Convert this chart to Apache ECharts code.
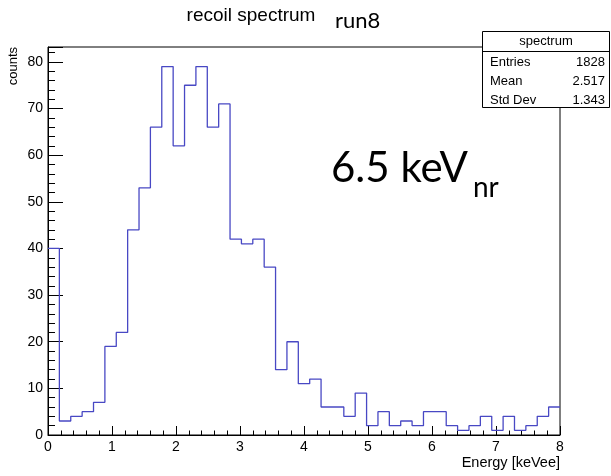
<!DOCTYPE html>
<html>
<head>
<meta charset="utf-8">
<title>recoil spectrum run8</title>
<script src="https://cdn.jsdelivr.net/npm/echarts@6/dist/echarts.min.js"></script>
<style>
  html, body { margin: 0; padding: 0; background: #fff; }
  #chart { width: 611px; height: 476px; }
</style>
</head>
<body>
<div id="chart"></div>
<script>
// histogram: 45 bins between 0 and 8 keVee
const xMin = 0;
const xMax = 8;
const binCounts = [
  40, 3, 4, 5, 7, 19, 22, 44, 53, 66,
  79, 62, 75, 79, 66, 71, 42, 41, 42, 36,
  14, 20, 11, 12, 6, 6, 4, 9, 2, 5,
  2, 3, 2, 5, 5, 2, 1, 2, 4, 1,
  4, 1, 2, 4, 6
];
const xTicks = [0, 1, 2, 3, 4, 5, 6, 7, 8];
const yTicks = [0, 10, 20, 30, 40, 50, 60, 70, 80];
const statLabels = ["Entries", "Mean", "Std Dev"];
const statValues = ["1828", "2.517", "1.343"];

const binWidth = (xMax - xMin) / binCounts.length;
// step line through the left edge of each bin, closed at xMax
const stepData = binCounts.map((c, i) => [xMin + i * binWidth, c]);
stepData.push([xMax, binCounts[binCounts.length - 1]]);

const chart = echarts.init(document.getElementById("chart"));

const statGraphics = [];
statLabels.forEach((lab, i) => {
  const y = 62 + i * 19.2;
  statGraphics.push({
    type: "text", z: 20,
    style: { text: lab, x: 490, y: y, fill: "#000", fontSize: 13,
      fontFamily: "Liberation Sans", align: "left", verticalAlign: "middle" }
  });
  statGraphics.push({
    type: "text", z: 20,
    style: { text: statValues[i], x: 605, y: y, fill: "#000", fontSize: 13,
      fontFamily: "Liberation Sans", align: "right", verticalAlign: "middle" }
  });
});

const option = {
  animation: false,
  backgroundColor: "#fff",
  grid: {
    left: 48, right: 51, top: 47, bottom: 41,
    show: true, borderColor: "#000", borderWidth: 1
  },
  xAxis: {
    type: "value",
    min: xMin, max: xMax, interval: 1,
    axisLine: { show: true, lineStyle: { color: "#000", width: 1 } },
    axisTick: { inside: true, length: 9, lineStyle: { color: "#000" } },
    minorTick: { show: true, splitNumber: 5, length: 4.5, lineStyle: { color: "#000" } },
    splitLine: { show: false },
    axisLabel: {
      color: "#000", fontSize: 14, fontFamily: "Liberation Sans", margin: 5,
      formatter: (v) => (xTicks.includes(v) ? String(v) : "")
    }
  },
  yAxis: {
    type: "value",
    min: 0, max: 83.2, interval: 10,
    axisLine: { show: true, lineStyle: { color: "#000", width: 1 } },
    axisTick: { inside: true, length: 15, lineStyle: { color: "#000" } },
    minorTick: { show: true, splitNumber: 5, length: 7, lineStyle: { color: "#000" } },
    splitLine: { show: false },
    axisLabel: {
      color: "#000", fontSize: 14, fontFamily: "Liberation Sans", margin: 5,
      showMaxLabel: false,
      formatter: (v) => (yTicks.includes(v) ? String(v) : "")
    }
  },
  series: [
    {
      name: "spectrum",
      type: "line",
      step: "end",
      symbol: "none",
      data: stepData,
      lineStyle: { color: "#4848c4", width: 1.3 }
    }
  ],
  graphic: [
    {
      type: "text",
      style: { text: "recoil spectrum", x: 251, y: 16, fill: "#000", fontSize: 19,
        fontFamily: "Liberation Sans", align: "center", verticalAlign: "middle" }
    },
    {
      type: "text",
      style: { text: "run8", x: 335, y: 21, fill: "#000", fontSize: 22,
        fontFamily: "Lato", align: "left", verticalAlign: "middle" }
    },
    {
      type: "text",
      x: 13.5, y: 47, rotation: Math.PI / 2,
      style: { text: "counts", x: 0, y: 0, fill: "#000", fontSize: 13,
        fontFamily: "Liberation Sans", align: "right", verticalAlign: "middle" }
    },
    {
      type: "text",
      style: { text: "Energy [keVee]", x: 560, y: 463, fill: "#000", fontSize: 14.5,
        fontFamily: "Liberation Sans", align: "right", verticalAlign: "middle" }
    },
    {
      type: "text",
      style: { text: "6.5 keV", x: 331, y: 168, fill: "#000", fontSize: 42,
        fontFamily: "Lato", align: "left", verticalAlign: "middle" }
    },
    {
      type: "text",
      style: { text: "nr", x: 473, y: 188, fill: "#000", fontSize: 28,
        fontFamily: "Lato", align: "left", verticalAlign: "middle" }
    },
    {
      type: "rect", z: 15,
      shape: { x: 482.5, y: 31.5, width: 127, height: 76 },
      style: { fill: "#fff", stroke: "#000", lineWidth: 1 }
    },
    {
      type: "line", z: 16,
      shape: { x1: 482.5, y1: 51.5, x2: 609.5, y2: 51.5 },
      style: { stroke: "#000", lineWidth: 1 }
    },
    {
      type: "text", z: 20,
      style: { text: "spectrum", x: 546, y: 41.5, fill: "#000", fontSize: 13,
        fontFamily: "Liberation Sans", align: "center", verticalAlign: "middle" }
    },
    ...statGraphics
  ]
};

chart.setOption(option);
</script>
</body>
</html>
